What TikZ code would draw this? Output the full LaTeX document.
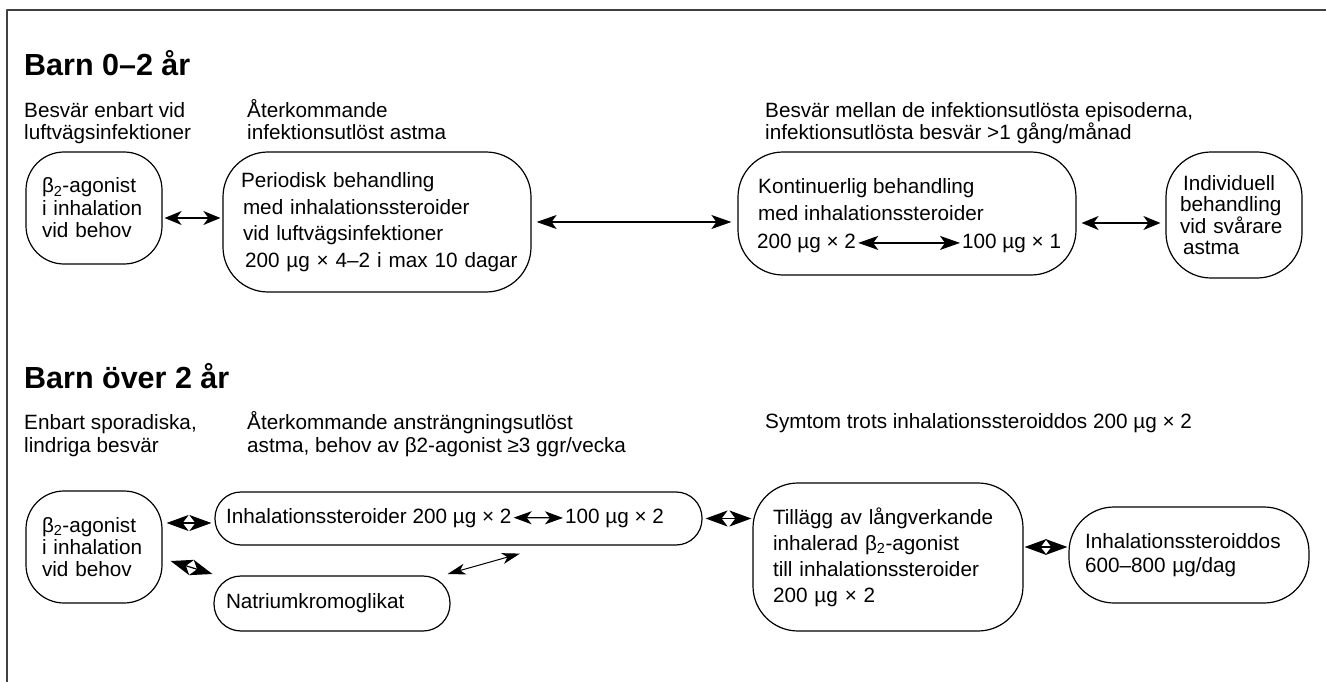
\documentclass[tikz,border=0pt]{standalone}
\usepackage{fontspec}
\setmainfont{Liberation Sans}
\usetikzlibrary{arrows.meta}
\newcommand{\btwo}{β\textsubscript{2}}
\begin{document}
\begin{tikzpicture}[x=1pt,y=-1pt,line join=round,
    head/.style={anchor=base west,inner sep=0pt,font=\fontsize{30.5}{34}\selectfont\bfseries},
    note/.style={anchor=base west,align=left,inner sep=0pt,font=\fontsize{20.7}{22.8}\selectfont},
    box/.style={draw,line width=1.2pt,align=left,inner ysep=0pt},
    dbl/.style={{Stealth[length=17pt,width=14pt,inset=5pt]}-{Stealth[length=17pt,width=14pt,inset=5pt]},line width=1.2pt,shorten <=2pt,shorten >=2pt},
    dblbig/.style={{Stealth[length=22pt,width=16pt,inset=6pt]}-{Stealth[length=22pt,width=16pt,inset=6pt]},line width=1.2pt},
    dblthin/.style={{Stealth[length=18pt,width=11pt,inset=5pt]}-{Stealth[length=18pt,width=11pt,inset=5pt]},line width=1pt},
    rim/.style={line width=1.5pt,black!75}]
  \useasboundingbox (0,0) rectangle (1326,682);
  \draw[rim] (7,682) -- (7,10) -- (1326,10);

  % Barn 0-2 aar (multi-line notes sit on their last baseline)
  \node[head] (barnA) at (24,76) {Barn 0–2 år};
  \node[note] (notA1) at (24,140) {Besvär enbart vid\\luftvägsinfektioner};
  \node[note] (notA2) at (247,140) {Återkommande\\infektionsutlöst astma};
  \node[note] (notA3) at (765,140) {Besvär mellan de infektionsutlösta episoderna,\\infektionsutlösta besvär >1 gång/månad};

  \node[box,rounded corners=38pt,minimum height=112pt,text width=104pt,inner xsep=16pt,
        font=\fontsize{20.7}{22.5}\selectfont] (agonA) at (94,208)
        {\btwo-agonist\\i inhalation\\vid behov};
  \node[box,rounded corners=45pt,minimum height=140pt,text width=272pt,inner xsep=18pt,
        font=\fontsize{20.7}{26.7}\selectfont] (periodisk) at (377,222)
        {\mbox{Periodisk behandling}\\\mbox{\hspace*{2pt}med inhalationssteroider}\\\mbox{\hspace*{2pt}vid luftvägsinfektioner}\\\mbox{\hspace*{4pt}200 µg × 4–2 i max 10 dagar}};
  \node[box,rounded corners=45pt,minimum height=123pt,minimum width=338pt] (kont) at (907,213.5) {};
  \node[note,font=\fontsize{20.7}{27}\selectfont] (kontTxt) at (758,220)
        {Kontinuerlig behandling\\med inhalationssteroider};
  \node[note,inner xsep=2pt] (d200) at (755,248) {200 µg × 2};
  \node[note,inner xsep=2pt] (d100) at (960,248) {100 µg × 1};
  \node[box,rounded corners=45pt,minimum height=126pt,text width=108pt,inner xsep=14pt,
        font=\fontsize{20.7}{21.5}\selectfont] (indiv) at (1234,215)
        {\hspace*{3pt}Individuell\\behandling\\vid svårare\\\hspace*{3pt}astma};

  \draw[dbl] ([yshift=-10pt]agonA.east) -- ([yshift=-10pt]agonA.east -| periodisk.west);
  \draw[dbl,{Stealth[length=20pt,width=14pt,inset=5pt]}-{Stealth[length=20pt,width=14pt,inset=5pt]},shorten <=5pt,shorten >=6pt]
        (periodisk.east) -- (periodisk.east -| kont.west);
  \draw[dbl,shorten <=5pt,shorten >=5pt] ([yshift=-9.5pt]kont.east) -- ([yshift=-9.5pt]kont.east -| indiv.west);
  \draw[dbl,{Stealth[length=20pt,width=14pt,inset=5pt]}-{Stealth[length=20pt,width=14pt,inset=5pt]},shorten <=0pt,shorten >=0pt]
        (d200.east) -- (d100.west);

  % Barn over 2 aar
  \node[head] (barnB) at (24,388) {Barn över 2 år};
  \node[note] (notB1) at (24,452) {Enbart sporadiska,\\lindriga besvär};
  \node[note] (notB2) at (247,452) {Återkommande ansträngningsutlöst\\astma, behov av β2-agonist ≥3 ggr/vecka};
  \node[note] (notB3) at (765,428) {Symtom trots inhalationssteroiddos 200 µg × 2};

  \node[box,rounded corners=38pt,minimum height=112pt,text width=104pt,inner xsep=16pt,
        font=\fontsize{20.7}{22}\selectfont] (agonB) at (94,547)
        {\btwo-agonist\\i inhalation\\vid behov};
  \node[box,rounded corners=26pt,minimum height=53pt,minimum width=487pt] (inhBox) at (458.5,518.5) {};
  \node[note,inner xsep=2pt] (inh200) at (224,523) {Inhalationssteroider 200 µg × 2};
  \node[note,inner xsep=2pt] (inh100) at (563,523) {100 µg × 2};
  \node[box,rounded corners=27pt,minimum height=55pt,text width=212pt,inner xsep=12pt,
        font=\fontsize{20.7}{22.5}\selectfont] (natrium) at (332,603.5) {Natriumkromoglikat};
  \node[box,rounded corners=45pt,minimum height=148pt,text width=230pt,inner xsep=20pt,
        font=\fontsize{20.7}{26}\selectfont] (tillagg) at (888,557)
        {\mbox{Tillägg av långverkande}\\inhalerad \btwo-agonist\\\mbox{till inhalationssteroider}\\200 µg × 2};
  \node[box,rounded corners=45pt,minimum height=96pt,text width=208pt,inner xsep=16pt,
        font=\fontsize{20.7}{24}\selectfont] (inhdos) at (1189,555)
        {Inhalationssteroiddos\\600–800 µg/dag};

  \draw[dblbig,shorten <=4pt,shorten >=3pt] ([yshift=-4.5pt]inhBox.west -| agonB.east) -- ([yshift=-4.5pt]inhBox.west);
  \draw[dblbig] ([shift={(8,14)}]agonB.east) -- ([shift={(-1,-29.5)}]natrium.west);
  \draw[dblthin] ([shift={(-3,-29.5)}]natrium.east) -- ([shift={(61.5,8)}]inhBox.south);
  \draw[dbl,{Stealth[length=18pt,width=13pt,inset=5pt]}-{Stealth[length=18pt,width=13pt,inset=5pt]},shorten <=0pt,shorten >=0pt]
        (inh200.east) -- (inh100.west);
  \draw[dblbig,shorten <=3pt,shorten >=1pt] (inhBox.east) -- (inhBox.east -| tillagg.west);
  \draw[dblbig,shorten <=1pt,shorten >=1pt] ([yshift=10pt]tillagg.east) -- ([yshift=10pt]tillagg.east -| inhdos.west);
\end{tikzpicture}
\end{document}
